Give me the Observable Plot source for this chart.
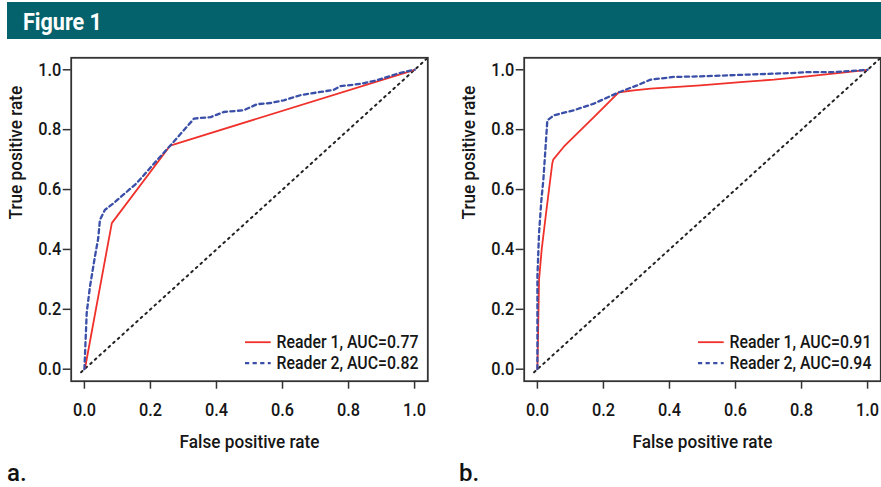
<!DOCTYPE html>
<html><head><meta charset="utf-8">
<script src="https://cdn.jsdelivr.net/npm/d3@7"></script>
<script src="https://cdn.jsdelivr.net/npm/@observablehq/plot@0.6"></script>
<style>
body{margin:0;background:#fff;}
#root{position:relative;width:881px;height:487px;overflow:hidden;background:#fff;font-family:Roboto,"Liberation Sans",sans-serif;}
#hdr{position:absolute;left:7px;top:2px;width:874px;height:37px;background:#03626b;}
#hdr span{position:absolute;left:16px;top:4.7px;color:#fff;font-weight:bold;font-size:24px;line-height:30px;white-space:nowrap;transform-origin:0 50%;}
.panel{position:absolute;top:40px;height:440px;}
.panel svg{max-width:none !important;}
.lab{position:absolute;font-size:24px;line-height:24px;color:#111;font-weight:500;}
</style></head>
<body><div id="root">
<div id="hdr"><span id="ftitle">Figure 1</span></div>
<div id="pa" class="panel" style="left:0px;width:440px"></div>
<div id="pb" class="panel" style="left:452.6px;width:428.4px"></div>
<div class="lab" style="left:7px;top:461px">a.</div>
<div class="lab" style="left:459px;top:461px">b.</div>
</div>
<script>
// ---- data ----
const tickValues = [0, 0.2, 0.4, 0.6, 0.8, 1.0];
const xTitle = "False positive rate";
const yTitle = "True positive rate";
const diagX = [-0.01, 1.04];
const diagY = [-0.01, 1.04];

// Panel a
const aReader1FPR = [0, 0.003, 0.083, 0.26, 1];
const aReader1TPR = [0, 0.01, 0.488, 0.747, 1];
const aReader2FPR = [0, 0.007, 0.017, 0.032, 0.042, 0.047, 0.062, 0.088, 0.158, 0.22, 0.261, 0.301, 0.332, 0.382, 0.422, 0.483, 0.523, 0.563, 0.604, 0.654, 0.715, 0.755, 0.775, 0.836, 0.886, 0.957, 1];
const aReader2TPR = [0, 0.189, 0.277, 0.377, 0.438, 0.499, 0.532, 0.554, 0.621, 0.698, 0.748, 0.798, 0.837, 0.842, 0.859, 0.865, 0.885, 0.889, 0.898, 0.915, 0.926, 0.933, 0.945, 0.953, 0.965, 0.99, 1];
const aLegend = ["Reader 1, AUC=0.77", "Reader 2, AUC=0.82"];

// Panel b
const bReader1FPR = [0, 0.002, 0.005, 0.013, 0.025, 0.035, 0.045, 0.048, 0.08, 0.171, 0.247, 0.292, 0.343, 0.413, 0.494, 0.615, 0.716, 0.817, 0.917, 1];
const bReader1TPR = [0, 0.12, 0.3, 0.4, 0.51, 0.599, 0.687, 0.70, 0.743, 0.842, 0.925, 0.931, 0.937, 0.942, 0.948, 0.959, 0.967, 0.978, 0.99, 1];
const bReader2FPR = [0, 0, 0.005, 0.012, 0.018, 0.024, 0.03, 0.05, 0.111, 0.171, 0.247, 0.302, 0.343, 0.413, 0.494, 0.615, 0.766, 0.817, 0.897, 1];
const bReader2TPR = [0, 0.31, 0.455, 0.565, 0.632, 0.73, 0.831, 0.848, 0.865, 0.887, 0.925, 0.948, 0.967, 0.976, 0.978, 0.983, 0.989, 0.992, 0.992, 1];
const bLegend = ["Reader 1, AUC=0.91", "Reader 2, AUC=0.94"];

// ---- styling / layout ----
const FONT = 'Roboto,"Liberation Sans",sans-serif';
const WEIGHT = 500;
const RED = "#f0302a";
const BLUE = "#3a4fa8";
const INK = "#161616";
const H = 440;
const mL = 70.7, mT = 17.3, mB = 99.3;
const FRAMEW = 356.6;
const dom = [-0.04, 1.04];
const kx = FRAMEW / (dom[1] - dom[0]);
const ky = (H - mT - mB) / (dom[1] - dom[0]);
const DASH = "4.2,3.4";
const DOTS = "1.8,4.4";

const pts = (xs, ys) => xs.map((x, i) => ({x, y: ys[i]}));

function panel(W, r1x, r1y, r2x, r2y, legend) {
  const mR = W - mL - FRAMEW;
  const lx1 = dom[1] - 182.3 / kx, lx2 = dom[1] - 156.6 / kx, tx = dom[1] - 151.3 / kx;
  const rowY = [dom[0] + 39 / ky, dom[0] + 18 / ky];
  return Plot.plot({
    width: W, height: H,
    marginLeft: mL, marginRight: mR, marginTop: mT, marginBottom: mB,
    x: {domain: dom},
    y: {domain: dom},
    style: {fontFamily: FONT, fontSize: "18px", fontWeight: WEIGHT, color: INK, background: "transparent", overflow: "visible"},
    marks: [
      Plot.line(pts(diagX, diagY), {x: "x", y: "y", stroke: "#222", strokeWidth: 2, strokeDasharray: DOTS}),
      Plot.line(pts(r1x, r1y), {x: "x", y: "y", stroke: RED, strokeWidth: 1.8}),
      Plot.line(pts(r2x, r2y), {x: "x", y: "y", stroke: BLUE, strokeWidth: 2.3, strokeDasharray: DASH}),
      Plot.frame({stroke: "#333", strokeWidth: 1.8}),
      Plot.axisX({ticks: tickValues, tickFormat: d3.format(".1f"), tickSize: 8, tickPadding: 14, label: null, stroke: "#333", strokeWidth: 1.5, fill: INK, fontSize: 18}),
      Plot.axisY({ticks: tickValues, tickFormat: d3.format(".1f"), tickSize: 8, tickPadding: 2, label: null, stroke: "#333", strokeWidth: 1.5, fill: INK, fontSize: 18}),
      Plot.text([xTitle], {text: d => d, frameAnchor: "bottom", dy: 53.3, lineAnchor: "top", fontSize: 19, fill: INK}),
      Plot.text([yTitle], {text: d => d, frameAnchor: "left", rotate: -90, dx: -62.4, lineAnchor: "top", fontSize: 19, fill: INK}),
      Plot.ruleY([rowY[0]], {x1: lx1, x2: lx2, stroke: RED, strokeWidth: 1.8}),
      Plot.ruleY([rowY[1]], {x1: lx1, x2: lx2, stroke: BLUE, strokeWidth: 2.3, strokeDasharray: DASH}),
      Plot.text(legend, {x: tx, y: (d, i) => rowY[i], text: d => d, textAnchor: "start", lineAnchor: "middle", fontSize: 17.5, fill: INK})
    ]
  });
}

// condense text horizontally (about its anchor) to mimic the narrow typeface of the original
function measure(str, size) {
  const ns = "http://www.w3.org/2000/svg";
  const s = document.createElementNS(ns, "svg");
  s.style.position = "absolute"; s.style.visibility = "hidden";
  const t = document.createElementNS(ns, "text");
  t.setAttribute("font-family", FONT); t.setAttribute("font-size", size); t.setAttribute("font-weight", WEIGHT);
  t.textContent = str; s.appendChild(t); document.body.appendChild(s);
  const w = t.getComputedTextLength(); s.remove(); return w;
}
const squeeze = 142 / measure(aLegend[0], 17.5);
function condense(svg) {
  svg.querySelectorAll("text").forEach(t => {
    const tr = t.getAttribute("transform");
    if (tr) {
      t.setAttribute("transform", `${tr} scale(${squeeze.toFixed(4)},1)`);
    } else {
      const len = t.getComputedTextLength();
      if (len > 0) { t.setAttribute("textLength", (len * squeeze).toFixed(2)); t.setAttribute("lengthAdjust", "spacingAndGlyphs"); }
    }
  });
}

const sa = panel(440, aReader1FPR, aReader1TPR, aReader2FPR, aReader2TPR, aLegend);
document.getElementById("pa").appendChild(sa); condense(sa);
const sb = panel(428.4, bReader1FPR, bReader1TPR, bReader2FPR, bReader2TPR, bLegend);
document.getElementById("pb").appendChild(sb); condense(sb);

const ft = document.getElementById("ftitle");
ft.style.transform = `scaleX(${(79 / ft.getBoundingClientRect().width).toFixed(3)})`;
</script>
</body></html>
